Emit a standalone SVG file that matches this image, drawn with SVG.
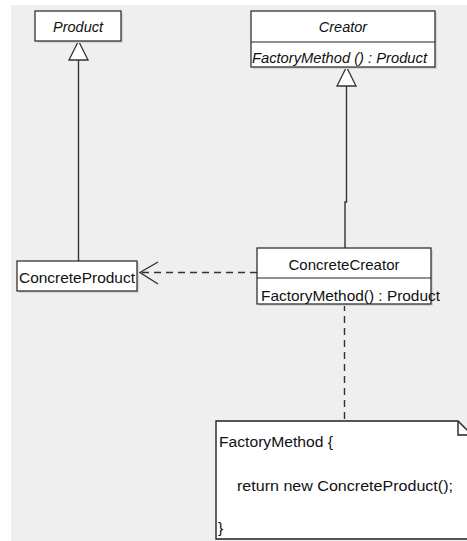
<svg xmlns="http://www.w3.org/2000/svg" width="467" height="541" viewBox="0 0 467 541">
<style>
.box{fill:#fff;stroke:#222;stroke-width:1.2}
.sh{fill:#d6d6d6}
.t{font-family:"Liberation Sans",Arial,sans-serif;font-size:14.5px;fill:#111}
.i{font-style:italic}
.ln{fill:none;stroke:#333;stroke-width:1.4}
.dash{fill:none;stroke:#333;stroke-width:1.4;stroke-dasharray:7 5}
.tri{fill:#fff;stroke:#333;stroke-width:1.3}
.nt{font-family:"Liberation Sans",Arial,sans-serif;font-size:15.5px;fill:#111}
</style>
<rect x="11" y="5" width="456" height="536" fill="#efefef"/>
<g id="connectors">
<line class="ln" x1="78.5" y1="60" x2="78.5" y2="261"/>
<polygon class="tri" points="78.5,41 69,60 88,60"/>
<path class="ln" d="M346.5,86 V202 H345 V248"/>
<polygon class="tri" points="346.5,67 337,86 356,86"/>
<line class="dash" x1="257" y1="272.5" x2="141" y2="272.5"/>
<polyline class="ln" points="158,262 140,272.5 158,284"/>
<line class="dash" x1="344.5" y1="304" x2="344.5" y2="421"/>
</g>
<g id="Product">
<rect class="sh" x="37" y="13" width="86" height="30"/>
<rect class="box" x="35" y="11" width="86" height="30"/>
<text class="t i" x="78" y="32" text-anchor="middle">Product</text>
</g>
<g id="Creator">
<rect class="sh" x="253" y="13" width="184" height="56"/>
<rect class="box" x="251" y="11" width="184" height="56"/>
<line class="box" x1="251" y1="42" x2="435" y2="42"/>
<text class="t i" x="343" y="32" text-anchor="middle">Creator</text>
<text class="t i" x="252" y="63" textLength="175" lengthAdjust="spacingAndGlyphs">FactoryMethod () : Product</text>
</g>
<g id="ConcreteProduct">
<rect class="sh" x="19" y="263" width="120" height="30"/>
<rect class="box" x="17" y="261" width="120" height="30"/>
<text class="t" x="19" y="283" textLength="116" lengthAdjust="spacingAndGlyphs">ConcreteProduct</text>
</g>
<g id="ConcreteCreator">
<rect class="sh" x="259" y="250" width="174" height="56"/>
<rect class="box" x="257" y="248" width="174" height="56"/>
<line class="box" x1="257" y1="278" x2="431" y2="278"/>
<text class="t" x="344" y="270" text-anchor="middle" textLength="111" lengthAdjust="spacingAndGlyphs">ConcreteCreator</text>
<text class="t" x="261" y="300.5" textLength="179" lengthAdjust="spacingAndGlyphs">FactoryMethod() : Product</text>
</g>
<g id="Note">
<path d="M216,421 H458 L472,435 V539 H216 Z" fill="#fff" stroke="#222" stroke-width="1.4"/>
<path d="M458,421 V435 H472" fill="none" stroke="#222" stroke-width="1.4"/>
<text class="nt" x="219" y="446.5" textLength="114" lengthAdjust="spacingAndGlyphs">FactoryMethod {</text>
<text class="nt" x="237" y="491" textLength="216" lengthAdjust="spacingAndGlyphs">return new ConcreteProduct();</text>
<text class="nt" x="218" y="533">}</text>
</g>
</svg>
